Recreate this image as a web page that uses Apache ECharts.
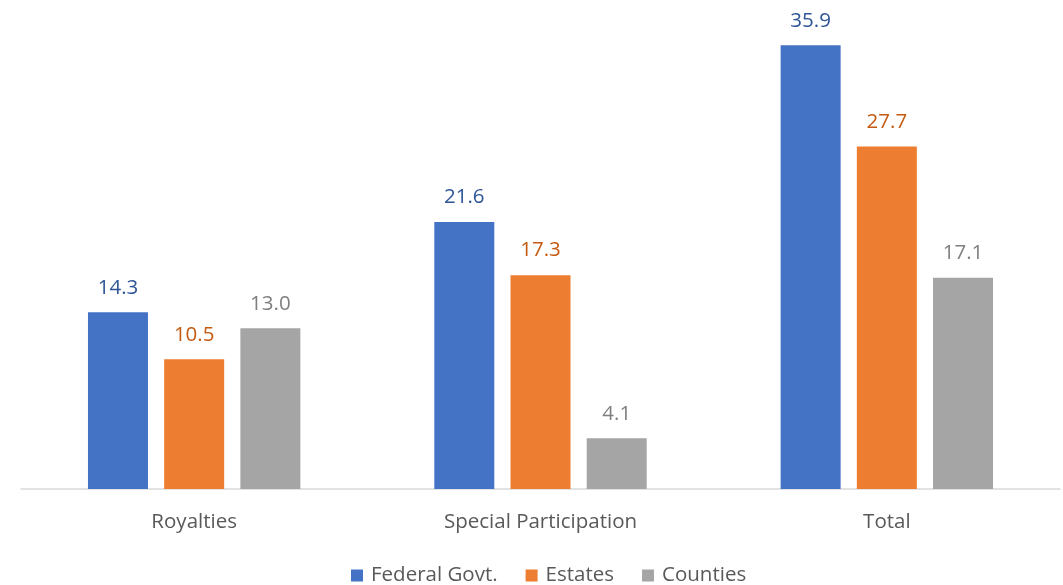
<!DOCTYPE html>
<html>
<head>
<meta charset="utf-8">
<script src="https://cdn.jsdelivr.net/npm/echarts@6/dist/echarts.min.js"></script>
<style>
  html, body { margin: 0; padding: 0; background: #fff; }
  #chart { width: 1063px; height: 585px; }
</style>
</head>
<body>
<div id="chart"></div>
<script>
// Revenue shares by stream and level of government
const categories = ['Royalties', 'Special Participation', 'Total'];
const federalGovt = [14.3, 21.6, 35.9];
const estates = [10.5, 17.3, 27.7];
const counties = [13.0, 4.1, 17.1];

const FONT = '"Open Sans", "Liberation Sans", sans-serif';

function barSeries(name, data, color, labelColor) {
  return {
    name: name,
    type: 'bar',
    data: data,
    barWidth: 60,
    barGap: '27%',
    itemStyle: { color: color },
    label: {
      show: true,
      position: 'top',
      distance: 14,
      color: labelColor,
      fontFamily: FONT,
      fontSize: 20.5,
      formatter: p => p.value.toFixed(1)
    }
  };
}

const chart = echarts.init(document.getElementById('chart'), null, { renderer: 'canvas' });
chart.setOption({
  animation: false,
  grid: { left: 21, right: 3, top: 44, bottom: 96, containLabel: false },
  legend: {
    bottom: -6,
    left: 346,
    itemWidth: 12,
    itemHeight: 12,
    itemGap: 28,
    icon: 'rect',
    textStyle: { color: '#595959', fontFamily: FONT, fontSize: 20.5, padding: [0, 0, 0, 3] },
    data: ['Federal Govt.', 'Estates', 'Counties']
  },
  xAxis: {
    type: 'category',
    data: categories,
    axisLine: { lineStyle: { color: '#D9D9D9', width: 1.5 } },
    axisTick: { show: false },
    axisLabel: { color: '#595959', fontFamily: FONT, fontSize: 20.5, margin: 23 }
  },
  yAxis: {
    type: 'value',
    min: 0,
    max: 36,
    show: false,
    splitLine: { show: false }
  },
  series: [
    barSeries('Federal Govt.', federalGovt, '#4472C4', '#2F5597'),
    barSeries('Estates', estates, '#ED7D31', '#C55A11'),
    barSeries('Counties', counties, '#A5A5A5', '#7F7F7F')
  ]
});
</script>
</body>
</html>
